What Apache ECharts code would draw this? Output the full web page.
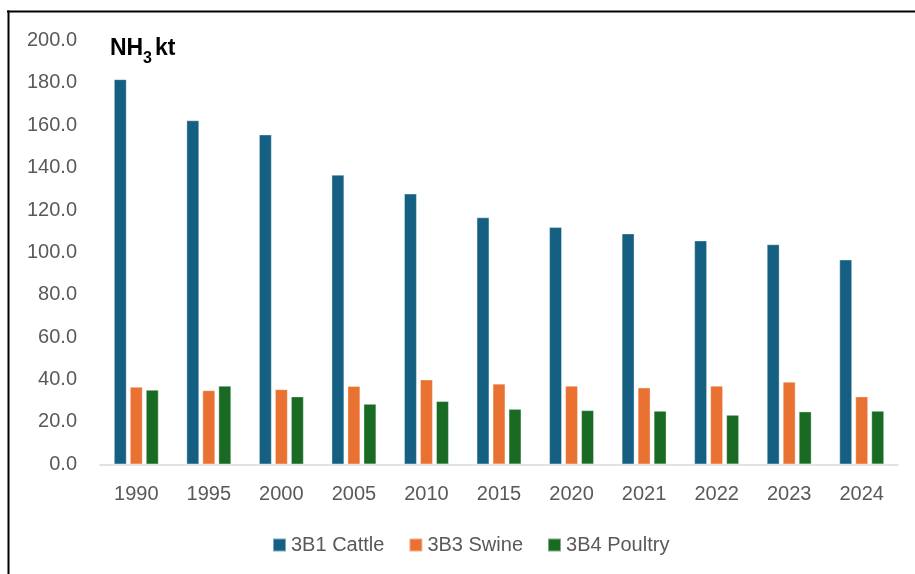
<!DOCTYPE html>
<html>
<head>
<meta charset="utf-8">
<script src="https://cdn.jsdelivr.net/npm/echarts@6/dist/echarts.min.js"></script>
<style>
html,body{margin:0;padding:0;background:#fff;}
#chart{width:915px;height:574px;}
</style>
</head>
<body>
<div id="chart"></div>
<script>
var categories = ['1990','1995','2000','2005','2010','2015','2020','2021','2022','2023','2024'];
var cattle  = [181.7, 162.3, 155.6, 136.6, 127.7, 116.5, 111.9, 108.9, 105.6, 103.8, 96.6];
var swine   = [36.5, 34.9, 35.4, 36.9, 40.0, 38.0, 37.0, 36.2, 37.0, 38.9, 32.0];
var poultry = [35.1, 37.0, 32.0, 28.5, 29.8, 26.1, 25.5, 25.2, 23.3, 24.9, 25.2];
var seriesNames = ['3B1 Cattle','3B3 Swine','3B4 Poultry'];
var colors = ['#156082','#E97132','#196B24'];

var FONT = "'Liberation Sans', Arial, sans-serif";
var chart = echarts.init(document.getElementById('chart'), null, {renderer:'canvas'});

function barSeries(name, data, color){
  return {
    name: name, type: 'bar', data: data,
    barWidth: 12.7, barGap: '26%',
    itemStyle: {color: color, borderColor: 'rgba(255,255,255,0.45)', borderWidth: 0.8},
    emphasis: {disabled: true}
  };
}

chart.setOption({
  animation: false,
  color: colors,
  textStyle: {fontFamily: FONT},
  grid: {left: 100, right: 17, top: 40.5, bottom: 109.7, containLabel: false},
  legend: {
    left: 272, top: 535, padding: 0,
    itemWidth: 13, itemHeight: 13, itemGap: 24,
    icon: 'rect',
    textStyle: {fontFamily: FONT, fontSize: 20, color: '#595959', padding: [0,0,0,0]},
    data: seriesNames
  },
  xAxis: {
    type: 'category', data: categories,
    axisLine: {lineStyle: {color: '#D9D9D9', width: 1.5}},
    axisTick: {show: false},
    axisLabel: {fontFamily: FONT, fontSize: 20, color: '#595959', margin: 20}
  },
  yAxis: {
    type: 'value', min: 0, max: 200, interval: 20,
    axisLine: {show: false}, axisTick: {show: false},
    splitLine: {show: false},
    axisLabel: {fontFamily: FONT, fontSize: 20, color: '#595959', margin: 23,
      formatter: function(v){ return v.toFixed(1); }}
  },
  graphic: [
    {type: 'line', shape: {x1: 7, y1: 11.5, x2: 915, y2: 11.5}, style: {stroke: '#000', lineWidth: 2}},
    {type: 'line', shape: {x1: 8.5, y1: 10.5, x2: 8.5, y2: 574}, style: {stroke: '#000', lineWidth: 2}},
    {type: 'text', x: 110, y: 49, style: {text: 'NH', font: "bold 23px 'Liberation Sans', Arial, sans-serif", fill: '#000', verticalAlign: 'middle'}},
    {type: 'text', x: 143, y: 59, style: {text: '3', font: "bold 16px 'Liberation Sans', Arial, sans-serif", fill: '#000', verticalAlign: 'middle'}},
    {type: 'text', x: 155, y: 49, style: {text: 'kt', font: "bold 23px 'Liberation Sans', Arial, sans-serif", fill: '#000', verticalAlign: 'middle'}}
  ],
  series: [
    barSeries(seriesNames[0], cattle, colors[0]),
    barSeries(seriesNames[1], swine, colors[1]),
    barSeries(seriesNames[2], poultry, colors[2])
  ]
});
</script>
</body>
</html>
